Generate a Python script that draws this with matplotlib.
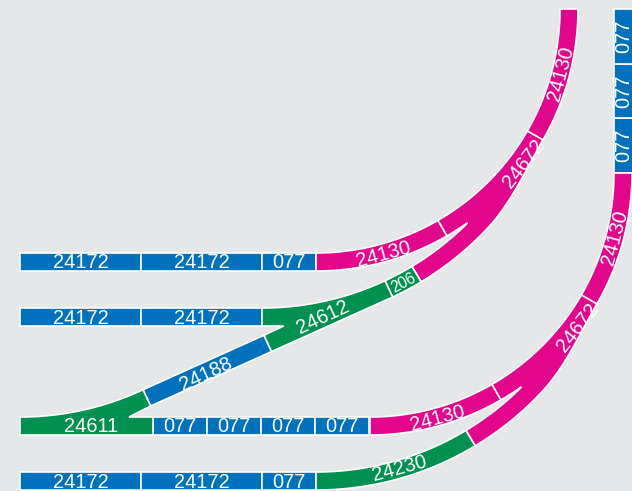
import numpy as np
import matplotlib
matplotlib.use('Agg')
import matplotlib.pyplot as plt
from matplotlib.patches import Polygon, Rectangle

plt.rcParams['font.family'] = ['Liberation Sans', 'DejaVu Sans']

BG = '#e6e7e8'
BLUE = '#0071bc'
PINK = '#e3068c'
GREEN = '#00904f'

# piece numbers, row by row
row_a = ['24172', '24172', '077']
row_b = ['24172', '24172']
row_c = ['077', '077', '077', '077']
row_d = ['24172', '24172', '077']
column = ['077', '077', '077']
lengths = {'24172': 121, '077': 54}

W = 18      # track width
R_MAIN = 253
R_BRANCH = 300
FS = 14.4

fig = plt.figure(figsize=(6.32, 4.91), dpi=100, facecolor=BG)
ax = fig.add_axes([0, 0, 1, 1])
ax.set_xlim(0, 632)
ax.set_ylim(491, 0)
ax.axis('off')


def pt(c, r, deg):
    a = np.radians(deg)
    return np.array([c[0] + r * np.sin(a), c[1] + r * np.cos(a)])


def arc(c, r, a0, a1, n=60):
    return [pt(c, r, a) for a in np.linspace(a0, a1, n)]


def shape(points, color):
    ax.add_patch(Polygon(np.array(points), closed=True, fc=color, ec='white', lw=1.2, joinstyle='miter'))


def label(x, y, s, rot=0, fs=FS):
    a = np.radians(rot)
    ax.text(x - np.sin(a), y - np.cos(a), s, color='white', fontsize=fs, rotation=rot,
            rotation_mode='anchor', ha='center', va='center_baseline')


def band(c, r, a0, a1, color):
    shape(arc(c, r - W / 2, a0, a1) + arc(c, r + W / 2, a1, a0), color)


def row(x, y, names):
    for s in names:
        L = lengths[s]
        ax.add_patch(Rectangle((x, y - W / 2), L, W, fc=BLUE, ec='white', lw=1.2))
        label(x + L / 2, y, s)
        x += L
    return x


def curve_group(x0, y0, x1, y1):
    # x0,y0 start of the main curve, x1,y1 start of the branch curve
    cm = (x0, y0 - R_MAIN)
    cb = (x1, y1 - R_BRANCH)
    band(cm, R_MAIN, 0, 30, PINK)
    band(cm, R_MAIN, 60, 90, PINK)
    # curved turnout 24672, outer edge eases from the branch radius to the main radius
    p_end = pt(cm, R_MAIN + W / 2, 60)
    p_join = pt(cb, R_BRANCH + W / 2, 47)
    t_end = np.array([np.cos(np.radians(60)), -np.sin(np.radians(60))])
    t_join = np.array([np.cos(np.radians(47)), -np.sin(np.radians(47))])
    h = np.linalg.norm(p_end - p_join) / 3
    c1, c2 = p_end - h * t_end, p_join + h * t_join
    ts = np.linspace(0, 1, 30)[:, None]
    outer = (1 - ts) ** 3 * p_end + 3 * (1 - ts) ** 2 * ts * c1 + 3 * (1 - ts) * ts ** 2 * c2 + ts ** 3 * p_join
    pts = arc(cm, R_MAIN - W / 2, 30, 60) + list(outer)
    pts += arc(cb, R_BRANCH + W / 2, 47, 31) + arc(cb, R_BRANCH - W / 2, 31, 44.9)
    pts += arc(cm, R_MAIN + W / 2, 35.2, 30)
    shape(pts, PINK)
    p = pt(cm, R_MAIN, 15)
    label(p[0] + 1.5, p[1], '24130', 15)
    label(x0 + 244, y0 - 189, '24130', 75)
    label(x0 + 207, y0 - 99, '24672', 52)
    return cb


# straight rows
row(20, 262, row_a)
row(20, 317, row_b)
row(153, 426, row_c)
row(20, 481, row_d)

# right hand column
y = 173
step = 54.7
for s in column:
    ax.add_patch(Rectangle((614, y - step), 30, step, fc=BLUE, ec='white', lw=1.2))
    label(623, y - step / 2, s, 90)
    y -= step

cb_top = curve_group(316, 262, 262, 317)
cb_low = curve_group(370, 426, 316, 481)

# lower branch
band(cb_low, R_BRANCH, 0, 31, GREEN)
label(399, 468, '24230', 15)

# upper branch: 206 and turnout 24612
A = 25
band(cb_top, R_BRANCH, A, 31, GREEN)
label(403, 282.5, '206', 28, 11.2)

c_left = (20, 426 - R_BRANCH)
left_end = pt(c_left, R_BRANCH, A)
right_end = pt(cb_top, R_BRANCH, A)
mid = (left_end + right_end) / 2
n = np.array([np.sin(np.radians(A)), np.cos(np.radians(A))]) * W / 2
d = np.array([np.cos(np.radians(A)), -np.sin(np.radians(A))])

# 24188 straight
shape([left_end - n, mid - n, mid + n, left_end + n], BLUE)
label(206, 373, '24188', 25)

# 24612
tip_t = ((mid - n)[1] - 326) / -d[1]
tip = (mid - n) + tip_t * d
shape(arc(cb_top, R_BRANCH - W / 2, 0, A) + [pt(cb_top, R_BRANCH + W / 2, A), mid + n, mid - n, tip, (262, 326)], GREEN)
label(323, 316, '24612', 25)

# 24611
shape(arc(c_left, R_BRANCH - W / 2, 0, A) + [pt(c_left, R_BRANCH + W / 2, A), (129, 417), (153, 417), (153, 435), (20, 435)], GREEN)
label(91, 426, '24611')

fig.savefig('out.png', dpi=100, facecolor=BG)
